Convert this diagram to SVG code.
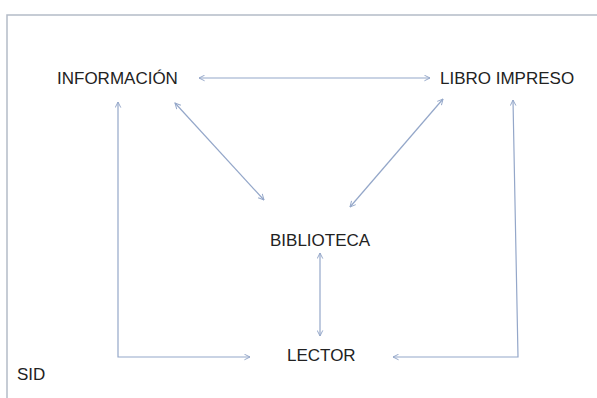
<svg xmlns="http://www.w3.org/2000/svg" width="597" height="398" viewBox="0 0 597 398">
<style>
.lbl{font-family:"Liberation Sans",Arial,sans-serif;font-size:17px;fill:#222}
.c{fill:none;stroke:#94a7c9;stroke-width:1.2;marker-end:url(#ah);marker-start:url(#ah)}
</style>
<defs>
<marker id="ah" viewBox="0 0 10 10" refX="9" refY="5" markerWidth="7" markerHeight="7" orient="auto-start-reverse" markerUnits="userSpaceOnUse">
<path d="M1,1 L9,5 L1,9" fill="none" stroke="#94a7c9" stroke-width="1.4"/>
</marker>
</defs>
<rect width="597" height="398" fill="#fff"/>
<path d="M7,398 V15 H597" fill="none" stroke="#b4bcc8" stroke-width="1.5"/>
<g id="informacion"><text class="lbl" x="57" y="84" font-size="17.6">INFORMACIÓN</text></g>
<g id="libro"><text class="lbl" x="440" y="84">LIBRO IMPRESO</text></g>
<g id="biblioteca"><text class="lbl" x="270" y="246" font-size="16">BIBLIOTECA</text></g>
<g id="lector"><text class="lbl" x="287" y="361" font-size="16">LECTOR</text></g>
<g id="sid"><text class="lbl" x="17" y="380" font-size="16">SID</text></g>
<g id="connectors">
<line class="c" x1="199" y1="78" x2="430" y2="78"/>
<line class="c" x1="175" y1="103" x2="264" y2="200"/>
<line class="c" x1="443" y1="99" x2="350" y2="207"/>
<line class="c" x1="320" y1="253" x2="320" y2="336"/>
<path class="c" d="M118,102 V357 H250"/>
<path class="c" d="M513,100 L518,357 H393"/>
</g>
</svg>
